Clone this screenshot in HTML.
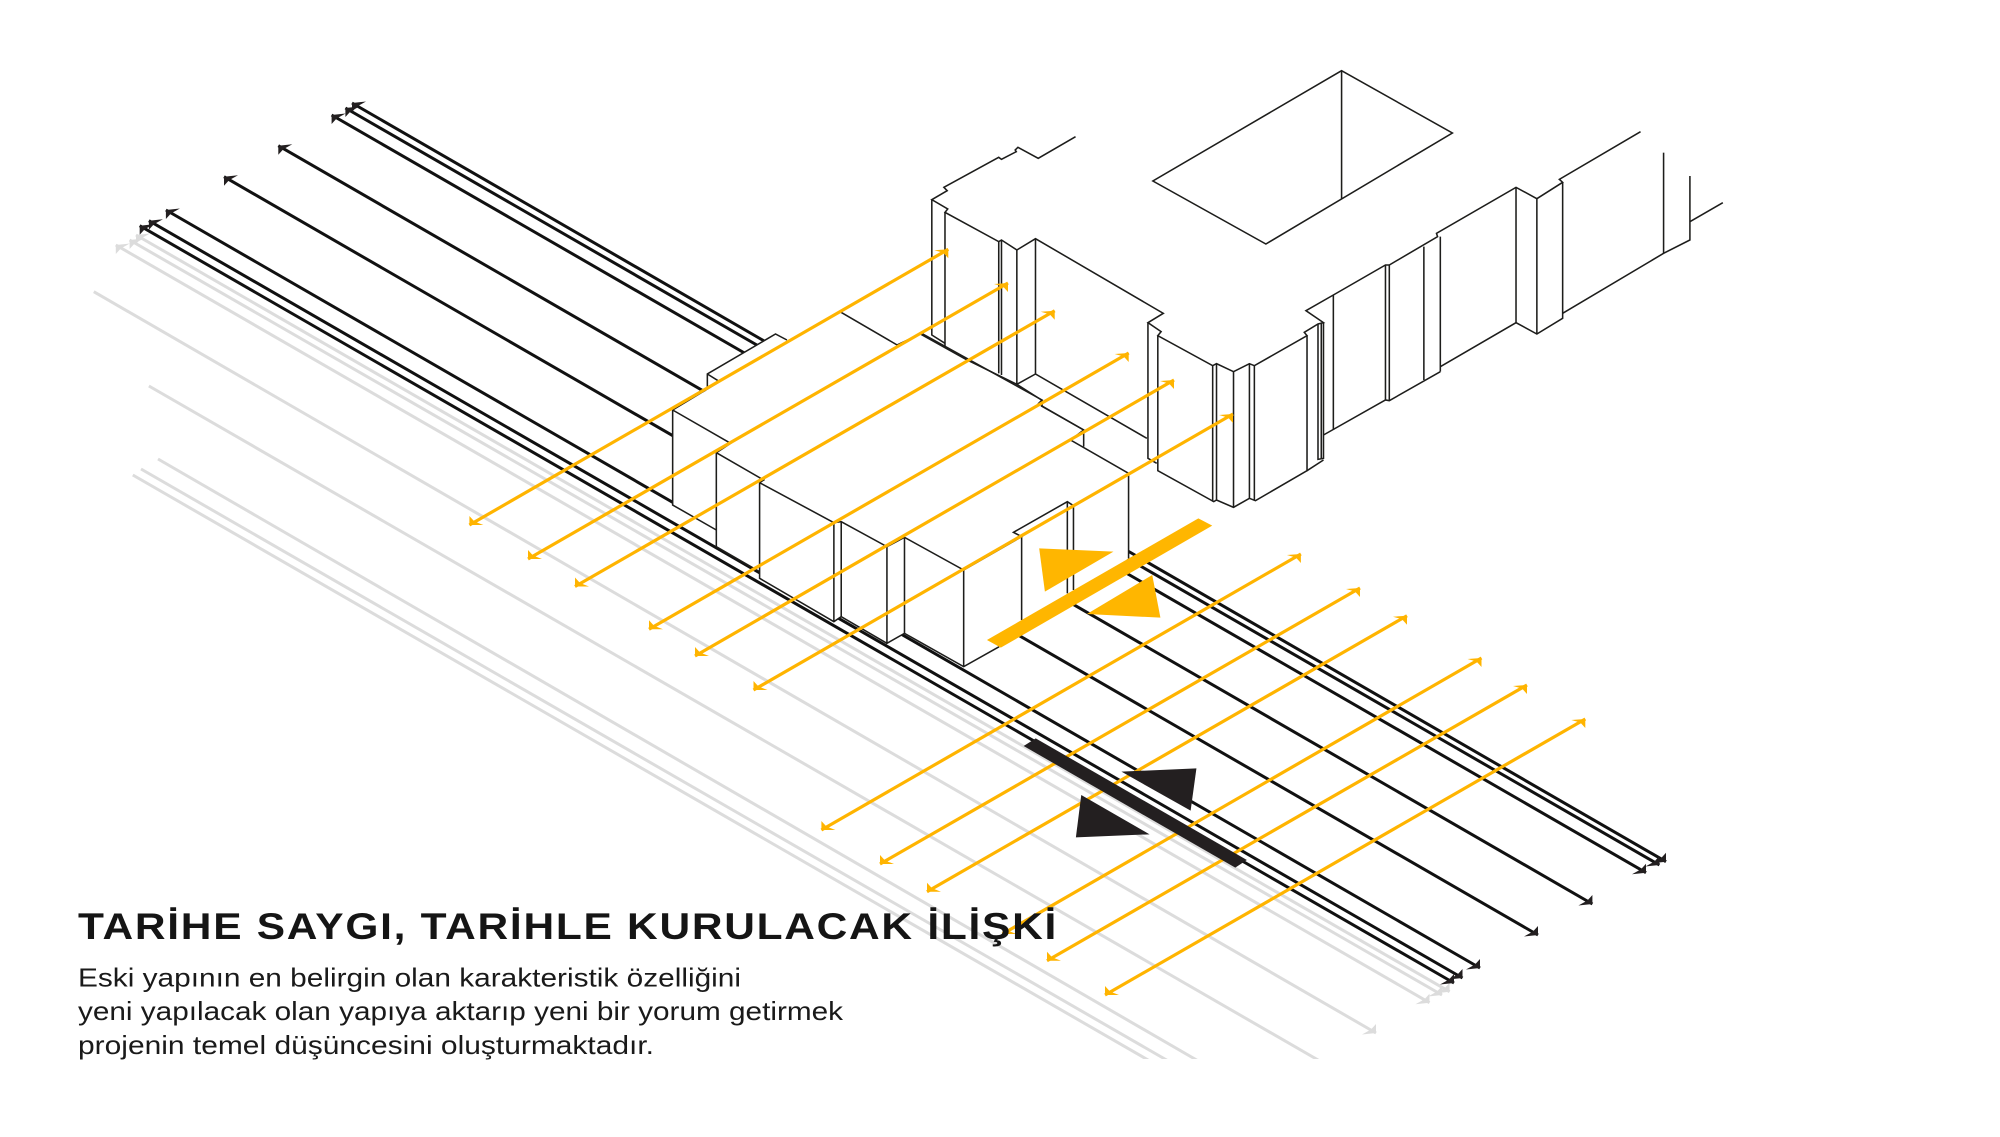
<!DOCTYPE html>
<html lang="tr">
<head>
<meta charset="utf-8">
<title>Tarihe Saygı</title>
<style>
html,body{margin:0;padding:0;background:#fff;width:2000px;height:1137px;overflow:hidden}
svg{display:block}
.ln{fill:none;stroke:#1d1d1b;stroke-width:1.55;vector-effect:non-scaling-stroke;stroke-linejoin:miter}
.ln *{fill:none;stroke:#1d1d1b;stroke-width:1.55;vector-effect:non-scaling-stroke}
text{font-family:"Liberation Sans","Noto Sans CJK JP",sans-serif;fill:#1a1a1a}
</style>
</head>
<body>
<svg width="2000" height="1137" viewBox="0 0 2000 1137" xmlns="http://www.w3.org/2000/svg">
<defs>
<polygon id="hl" points="0,9 0,0 14,-1.5 5,3.5"/>
<polygon id="hr" points="0,-9 0,0 -14,1.5 -5,-3.5"/>
<polygon id="yr" points="0,9 0,0 -14,1 -5,3.5"/>
<polygon id="yl" points="0,-9 0,0 14,0 5,-3.5"/>
</defs>

<!-- grey lines -->
<g stroke="#dcdcdc" stroke-width="3" fill="none">
<line x1="136" y1="235" x2="1449.6" y2="991.7"/>
<line x1="129.6" y1="240" x2="1442" y2="995"/>
<line x1="115.8" y1="245" x2="1429.5" y2="1002.7"/>
<line x1="93.8" y1="291.7" x2="1376" y2="1033"/>
<line x1="148.9" y1="386" x2="1325" y2="1064"/>
<line x1="158" y1="459" x2="1200" y2="1062"/>
<line x1="141" y1="469" x2="1170" y2="1062"/>
<line x1="132.8" y1="475" x2="1155" y2="1064"/>
</g>
<g fill="#dcdcdc">
<use href="#hl" x="136" y="235"/><use href="#hl" x="129.6" y="240"/><use href="#hl" x="115.8" y="245"/>
<use href="#hr" x="1449.6" y="991.7"/><use href="#hr" x="1442" y="995"/><use href="#hr" x="1429.5" y="1002.7"/><use href="#hr" x="1376" y="1033"/>
</g>
<rect x="0" y="1059" width="2000" height="78" fill="#fff"/>

<!-- black lines -->
<g stroke="#111" stroke-width="3" fill="none">
<line x1="352" y1="103" x2="1666" y2="861.7"/>
<line x1="345.4" y1="108" x2="1659.4" y2="865"/>
<line x1="331.6" y1="115" x2="1646" y2="872.7"/>
<line x1="278.3" y1="145.7" x2="1592.4" y2="904"/>
<line x1="224" y1="176.7" x2="1538" y2="935"/>
<line x1="165.9" y1="210" x2="1480" y2="968"/>
<line x1="148.9" y1="220.7" x2="1462.5" y2="978"/>
<line x1="139.7" y1="225.7" x2="1454" y2="983"/>
</g>
<g fill="#231f20">
<use href="#hl" x="352" y="103"/><use href="#hl" x="345.4" y="108"/><use href="#hl" x="331.6" y="115"/>
<use href="#hl" x="278.3" y="145.7"/><use href="#hl" x="224" y="176.7"/><use href="#hl" x="165.9" y="210"/>
<use href="#hl" x="148.9" y="220.7"/><use href="#hl" x="139.7" y="225.7"/>
<use href="#hr" x="1666" y="861.7"/><use href="#hr" x="1659.4" y="865"/><use href="#hr" x="1646" y="872.7"/>
<use href="#hr" x="1592.4" y="904"/><use href="#hr" x="1538" y="935"/><use href="#hr" x="1480" y="968"/>
<use href="#hr" x="1462.5" y="978"/><use href="#hr" x="1454" y="983"/>
</g>

<!-- massing (white mask + strokes), zoom-space coords -->
<g transform="translate(640,300) scale(.40816,.33333)">
<polygon fill="#fff" points="80,330 165,270 165,222 332,102 360,120 490,35 630,135 690,100 985,300 985,318 1087,390 1087,440 1197,520 1197,775 870,1035 793,1100 648,1000 605,1030 493,950 475,965 293,835 293,815 187,740 187,690 80,615"/>
<g class="ln">
<polyline points="490,35 630,135"/>
<polyline points="630,135 690,100 985,300 975,312"/>
<polyline points="985,300 985,318 1087,390 1055,420 1197,520 1197,775"/>
<polyline points="1087,390 1087,440"/>
<polyline points="165,268 165,222 332,102 360,120"/>
<polyline points="165,222 195,245 80,330"/>
<polyline points="80,330 222,430 187,458"/>
<polyline points="80,330 80,615 187,690"/>
<polyline points="187,458 187,740 293,815"/>
<polyline points="187,458 303,540 293,548"/>
<polyline points="293,548 293,835 475,965 493,950"/>
<polyline points="293,548 475,668 493,665 605,740 648,712 793,810 935,710 915,697 1047,605 1062,617"/>
<polyline points="475,668 475,965"/>
<polyline points="493,665 493,950 605,1030"/>
<polyline points="605,740 605,1030 648,1000 793,1100 880,1040"/>
<polyline points="648,712 648,1000"/>
<polyline points="793,810 793,1100"/>
<polyline points="935,710 935,960"/>
<polyline points="1047,605 1047,880"/>
<polyline points="1062,617 1062,870"/>
</g>
</g>

<!-- upper building -->
<g transform="translate(900,50) scale(.54855,.33333)" class="ln">
<polygon points="805,62 1007,249 667,582 461,393"/>
<line x1="805" y1="62" x2="805" y2="447"/>
<polyline points="320,260 252,325 215,292 210,300 212,305 185,328 180,322 80,412 86,422 58,449 87,477 82,487 180,575 185,570 213,600 247,566 480,790 452,818 476,845 470,857 570,947 577,941 608,965 637,941 646,947 742,857 737,847 762,822 772,818 740,782 790,735 885,645 892,645 980,560 978,550 1123,412 1161,446 1208,397 1202,388 1350,245"/>
<polyline points="58,449 58,855 82,880"/>
<polyline points="82,487 82,890"/>
<polyline points="35,850 120,928 213,1003 258,1050 258,1068 335,1140"/>
<polyline points="180,575 180,970"/>
<polyline points="185,570 185,975"/>
<polyline points="213,600 213,1003 247,972 450,1165"/>
<polyline points="247,566 247,972"/>
<polyline points="452,818 452,1225 468,1240"/>
<polyline points="470,857 470,1262 572,1355 577,1350 608,1372 637,1345 648,1352 742,1262 742,857"/>
<polyline points="570,947 570,1355"/>
<polyline points="577,941 577,1350"/>
<polyline points="608,965 608,1372"/>
<polyline points="637,941 637,1345"/>
<polyline points="646,947 646,1352"/>
<polyline points="762,822 762,1228 772,1225 772,818"/>
<polyline points="768,820 768,1228"/>
<polyline points="742,1262 772,1230"/>
<polyline points="790,735 790,1140"/>
<polyline points="772,1155 885,1050 892,1052 985,965"/>
<polyline points="885,645 885,1050"/>
<polyline points="892,645 892,1052"/>
<polyline points="955,590 955,990"/>
<polyline points="985,560 985,965"/>
<polyline points="985,950 1123,818 1161,852 1208,805 1208,397"/>
<polyline points="1123,412 1123,818"/>
<polyline points="1161,446 1161,852"/>
<polyline points="1208,790 1392,610 1440,570 1440,378"/>
<polyline points="1392,308 1392,610"/>
<polyline points="1440,515 1500,458"/>
</g>

<!-- yellow arrows -->
<g stroke="#ffb400" stroke-width="3.2" fill="none">
<line x1="948.3" y1="249.3" x2="469.4" y2="525"/>
<line x1="1008" y1="283" x2="528" y2="559"/>
<line x1="1054.7" y1="310.7" x2="575" y2="586.5"/>
<line x1="1128.7" y1="353" x2="649" y2="629.3"/>
<line x1="1174" y1="380" x2="695" y2="656"/>
<line x1="1233" y1="414" x2="753.5" y2="690"/>
<line x1="1300.9" y1="554" x2="821.4" y2="830"/>
<line x1="1360" y1="588" x2="880" y2="864"/>
<line x1="1407" y1="615.7" x2="927" y2="891.7"/>
<line x1="1481.5" y1="658" x2="1002.5" y2="934"/>
<line x1="1527" y1="685" x2="1047" y2="960.7"/>
<line x1="1585.3" y1="719" x2="1105" y2="995"/>
</g>
<g fill="#ffb400">
<use href="#yr" x="948.3" y="249.3"/><use href="#yr" x="1008" y="283"/><use href="#yr" x="1054.7" y="310.7"/>
<use href="#yr" x="1128.7" y="353"/><use href="#yr" x="1174" y="380"/><use href="#yr" x="1233" y="414"/>
<use href="#yr" x="1300.9" y="554"/><use href="#yr" x="1360" y="588"/><use href="#yr" x="1407" y="615.7"/>
<use href="#yr" x="1481.5" y="658"/><use href="#yr" x="1527" y="685"/><use href="#yr" x="1585.3" y="719"/>
<use href="#yl" x="469.4" y="525"/><use href="#yl" x="528" y="559"/><use href="#yl" x="575" y="586.5"/>
<use href="#yl" x="649" y="629.3"/><use href="#yl" x="695" y="656"/><use href="#yl" x="753.5" y="690"/>
<use href="#yl" x="821.4" y="830"/><use href="#yl" x="880" y="864"/><use href="#yl" x="927" y="891.7"/>
<use href="#yl" x="1002.5" y="934"/><use href="#yl" x="1047" y="960.7"/><use href="#yl" x="1105" y="995"/>
</g>

<!-- yellow bar and triangles -->
<g transform="translate(640,300) scale(.40816,.33333)" fill="#ffb600">
<polygon points="1368,655 1402,677 884,1043 850,1020"/>
<polygon points="978,745 1160,755 992,875"/>
<polygon points="1255,825 1275,953 1095,942"/>
</g>

<!-- black bar and triangles -->
<g transform="translate(1000,720) scale(.44643,.33333)" fill="#231f20">
<polygon points="80,55 553,420 527,443 53,78"/>
<polygon points="272,155 440,145 427,272"/>
<polygon points="182,225 335,343 170,352"/>
</g>

<!-- text -->
<text x="78" y="939" font-size="37" font-weight="700" letter-spacing="1.5" textLength="980" lengthAdjust="spacingAndGlyphs" style="fill:#151515">TARİHE SAYGI, TARİHLE KURULACAK İLİŞKİ</text>
<text x="78" y="986.5" font-size="26" textLength="663" lengthAdjust="spacingAndGlyphs">Eski yapının en belirgin olan karakteristik özelliğini</text>
<text x="78" y="1020" font-size="26" textLength="765" lengthAdjust="spacingAndGlyphs">yeni yapılacak olan yapıya aktarıp yeni bir yorum getirmek</text>
<text x="78" y="1054" font-size="26" textLength="576" lengthAdjust="spacingAndGlyphs">projenin temel düşüncesini oluşturmaktadır.</text>
</svg>
</body>
</html>
